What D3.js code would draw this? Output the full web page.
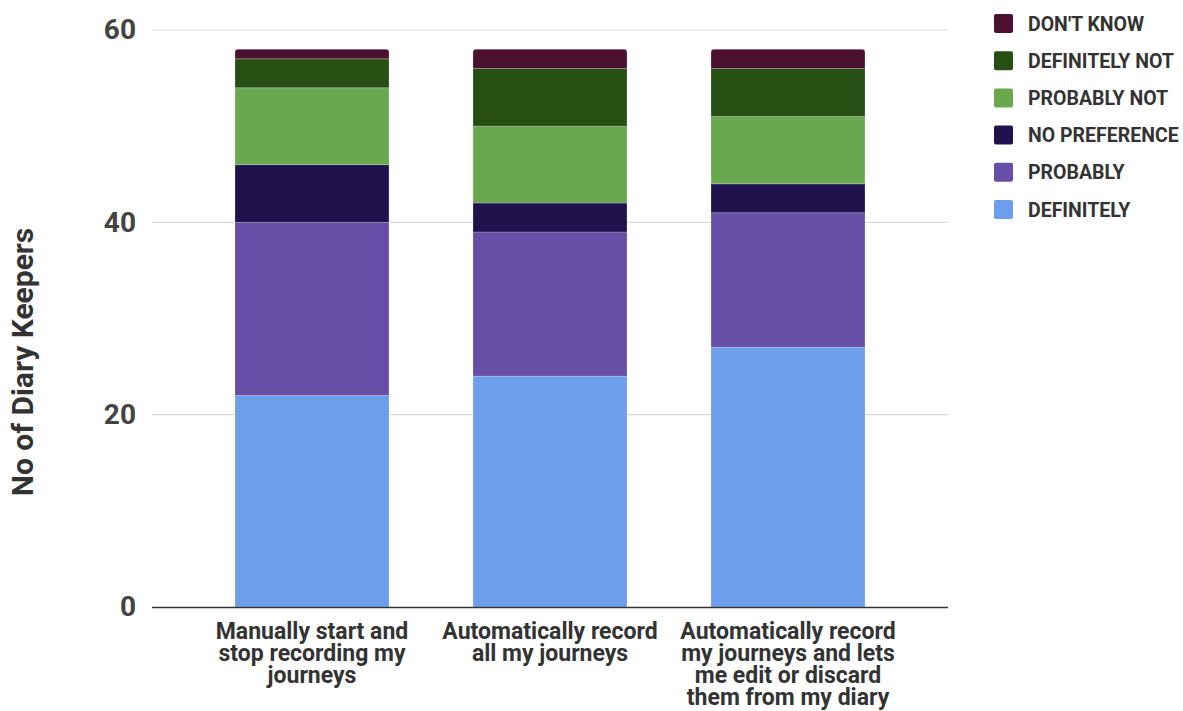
<!DOCTYPE html>
<html>
<head>
<meta charset="utf-8">
<script src="https://cdn.jsdelivr.net/npm/d3@7"></script>
<style>
  html, body { margin: 0; padding: 0; background: #fff; }
  svg { display: block; font-family: Roboto, "Liberation Sans", Arial, sans-serif; }
</style>
</head>
<body>
<svg id="chart" width="1183" height="711"></svg>
<script>
// Survey answers per recording option (stacked bottom to top)
const categories = [
  ["Manually start and", "stop recording my", "journeys"],
  ["Automatically record", "all my journeys"],
  ["Automatically record", "my journeys and lets", "me edit or discard", "them from my diary"]
];
const seriesNames = ["DEFINITELY", "PROBABLY", "NO PREFERENCE", "PROBABLY NOT", "DEFINITELY NOT", "DON'T KNOW"];
const definitely    = [22, 24, 27];
const probably      = [18, 15, 14];
const noPreference  = [6, 3, 3];
const probablyNot   = [8, 8, 7];
const definitelyNot = [3, 6, 5];
const dontKnow      = [1, 2, 2];
const yTicks = [0, 20, 40, 60];
const yTitle = "No of Diary Keepers";

const seriesColors = ["#6d9eeb", "#674ea7", "#20124d", "#6aa84f", "#274e13", "#4c1130"];
const seriesValues = [definitely, probably, noPreference, probablyNot, definitelyNot, dontKnow];

const rows = categories.map((c, i) => {
  const r = { key: i };
  seriesNames.forEach((s, j) => { r[s] = seriesValues[j][i]; });
  return r;
});

const svg = d3.select("#chart");
const plotLeft = 152, plotRight = 948, plotTop = 30, plotBottom = 607;

const x = d3.scaleBand()
  .domain(d3.range(categories.length))
  .range([193, 907])
  .paddingInner(0.353)
  .paddingOuter(0.1765);

const y = d3.scaleLinear().domain([0, 60]).range([plotBottom, plotTop]);

// Horizontal gridlines
svg.append("g")
  .selectAll("line")
  .data(yTicks.filter(t => t > 0))
  .join("line")
  .attr("x1", plotLeft).attr("x2", plotRight)
  .attr("y1", d => y(d)).attr("y2", d => y(d))
  .attr("stroke", "#d9d9d9").attr("stroke-width", 1.2);

// Y axis tick labels
const yAxis = svg.append("g")
  .attr("transform", `translate(${plotLeft - 12},0)`)
  .call(d3.axisLeft(y).tickValues(yTicks).tickSize(0).tickPadding(4).tickFormat(d3.format("d")));
yAxis.select(".domain").remove();
yAxis.selectAll("text")
  .attr("font-family", "Roboto, 'Liberation Sans', Arial, sans-serif")
  .attr("font-size", 28).attr("font-weight", 700).attr("fill", "#444");

// Y axis title
svg.append("text")
  .attr("transform", "translate(33,362) rotate(-90)")
  .attr("text-anchor", "middle")
  .attr("font-size", 30).attr("font-weight", 700).attr("fill", "#333")
  .text(yTitle);

// Stacked bars
const stack = d3.stack().keys(seriesNames)(rows);
const r = 3;
function segPath(x0, w, yTop, yBot, rounded) {
  if (!rounded) return `M${x0},${yBot}V${yTop}H${x0 + w}V${yBot}Z`;
  return `M${x0},${yBot}V${yTop + r}Q${x0},${yTop} ${x0 + r},${yTop}` +
         `H${x0 + w - r}Q${x0 + w},${yTop} ${x0 + w},${yTop + r}V${yBot}Z`;
}
svg.append("g")
  .selectAll("g")
  .data(stack)
  .join("g")
  .attr("fill", (d, i) => seriesColors[i])
  .selectAll("path")
  .data((d, i) => d.map(p => ({ p, top: i === stack.length - 1, key: p.data.key })))
  .join("path")
  .attr("d", d => segPath(x(d.key), x.bandwidth(), y(d.p[1]), y(d.p[0]), d.top))
  .attr("stroke", "rgba(255,255,255,0.25)")
  .attr("stroke-width", 0.8);

// Baseline
svg.append("line")
  .attr("x1", plotLeft).attr("x2", plotRight)
  .attr("y1", plotBottom + 0.5).attr("y2", plotBottom + 0.5)
  .attr("stroke", "#333").attr("stroke-width", 1.3);

// Category labels
const catG = svg.append("g")
  .selectAll("text")
  .data(categories)
  .join("text")
  .attr("text-anchor", "middle")
  .attr("font-size", 23).attr("font-weight", 700).attr("fill", "#333")
  .attr("transform", (d, i) => `translate(${x(i) + x.bandwidth() / 2},638.5)`);
catG.selectAll("tspan")
  .data(d => d)
  .join("tspan")
  .attr("x", 0)
  .attr("y", (d, i) => i * 22.3)
  .text(d => d);

// Legend
const legendOrder = seriesNames.map((n, i) => ({ n, c: seriesColors[i] })).reverse();
const lg = svg.append("g").attr("transform", "translate(994,14)");
const item = lg.selectAll("g")
  .data(legendOrder)
  .join("g")
  .attr("transform", (d, i) => `translate(0,${i * 37.2})`);
item.append("rect")
  .attr("width", 19).attr("height", 19).attr("rx", 2)
  .attr("fill", d => d.c);
item.append("text")
  .attr("x", 34).attr("y", 16.5)
  .attr("font-size", 19.5).attr("font-weight", 700).attr("fill", "#333")
  .text(d => d.n);
</script>
</body>
</html>
